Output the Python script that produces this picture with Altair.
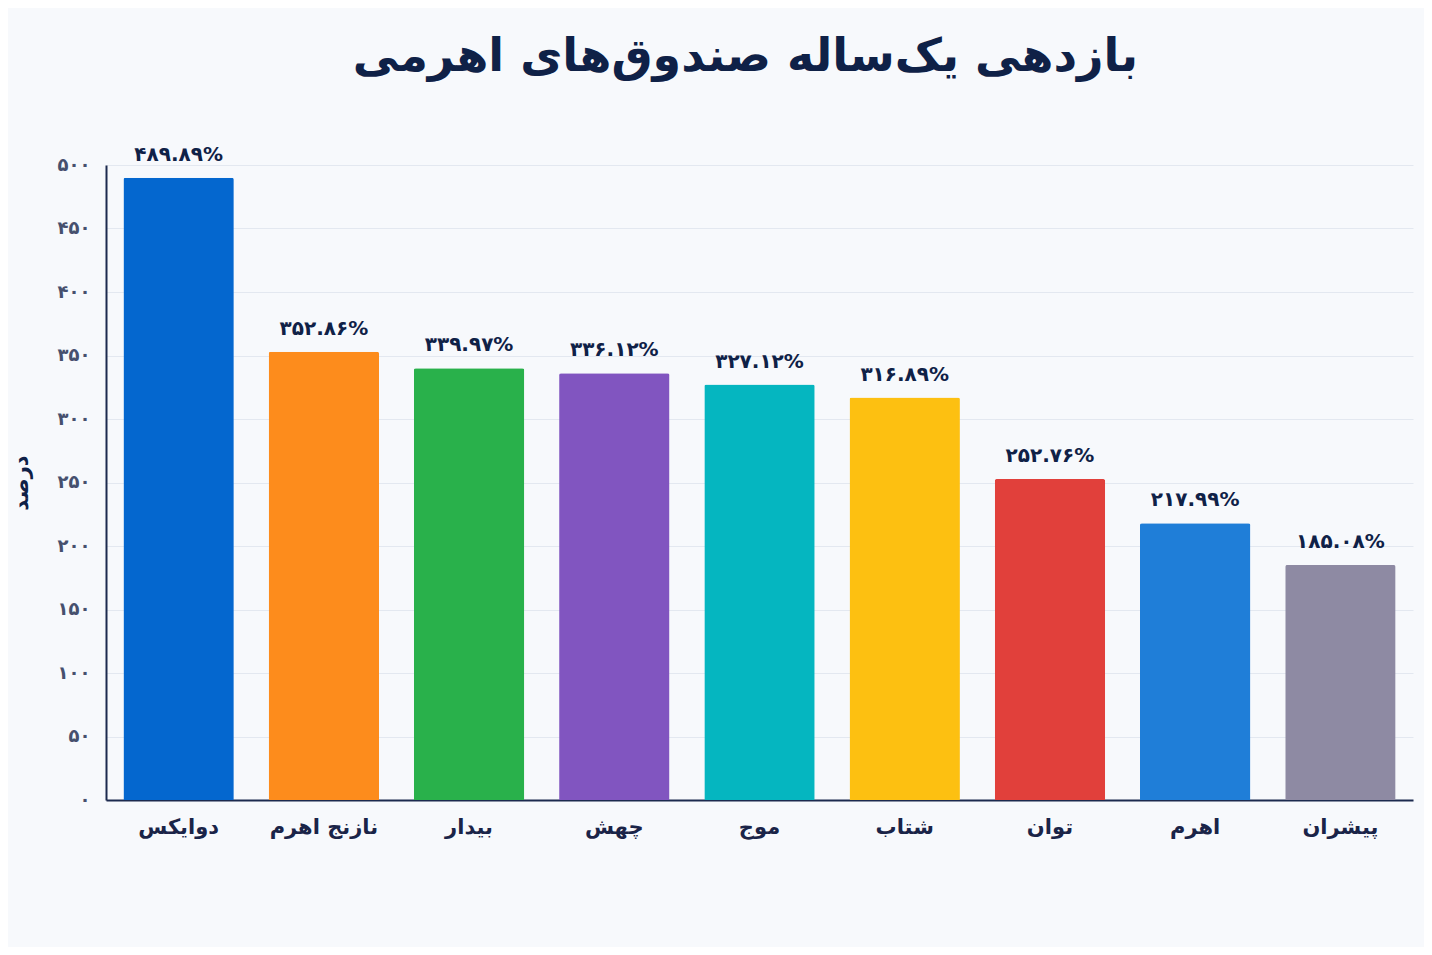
import altair as alt
import pandas as pd

funds = ["دوایکس", "نازنج اهرم", "بیدار", "چهش", "موج", "شتاب", "توان", "اهرم", "پیشران"]
returns = [489.89, 352.86, 339.97, 336.12, 327.12, 316.89, 252.76, 217.99, 185.08]
colors = ["#0467cf", "#fd8c1c", "#29b14b", "#8155c0", "#05b6c0", "#fdc011", "#e1403b", "#1f7ed8", "#8e8aa3"]
y_ticks = [0, 50, 100, 150, 200, 250, 300, 350, 400, 450, 500]

fa_digits = "۰۱۲۳۴۵۶۷۸۹"


def to_fa(s):
    return "".join(fa_digits[int(c)] if c.isdigit() else c for c in s)


df = pd.DataFrame({
    "fund": funds,
    "value": returns,
    "label": [to_fa(f"{v:.2f}") + "%" for v in returns],
})

expr = "datum.label"
for i, d in enumerate(fa_digits):
    expr = f"replace({expr}, regexp('{i}', 'g'), '{d}')"

FONT = "DejaVu Sans"
NAVY = "#0f2147"

x_enc = alt.X(
    "fund:N",
    sort=funds,
    scale=alt.Scale(paddingInner=0.24, paddingOuter=0.12),
    axis=alt.Axis(
        title=None, labelAngle=0, labelFont=FONT, labelFontSize=21, labelFontWeight="bold",
        labelColor="#1a2448", labelPadding=16, ticks=False, domainColor="#1c2a4e", domainWidth=2,
        grid=False,
    ),
)
y_enc = alt.Y(
    "value:Q",
    scale=alt.Scale(domain=[0, 500], nice=False),
    axis=alt.Axis(
        title="درصد", values=y_ticks, labelExpr=expr, labelFont=FONT, labelFontSize=18,
        labelFontWeight="bold", labelColor="#46506e", labelPadding=16, ticks=False,
        domainColor="#1c2a4e", domainWidth=2, gridColor="#e3e8f0", gridWidth=1,
        titleFont=FONT, titleFontSize=21, titleFontWeight="bold", titleColor=NAVY,
        titlePadding=26,
    ),
)

bars = alt.Chart(df).mark_bar(cornerRadiusTopLeft=2, cornerRadiusTopRight=2).encode(
    x=x_enc,
    y=y_enc,
    color=alt.Color("fund:N", sort=funds, scale=alt.Scale(domain=funds, range=colors), legend=None),
)

texts = alt.Chart(df).mark_text(
    baseline="bottom", dy=-13, font=FONT, fontSize=20, fontWeight="bold", color=NAVY
).encode(
    x=alt.X("fund:N", sort=funds),
    y=alt.Y("value:Q"),
    text="label:N",
)

chart = (bars + texts).properties(
    width=1307,
    height=635,
    background="#f7f9fc",
    padding={"left": 98, "top": 157, "right": 11, "bottom": 147},
    autosize=alt.AutoSizeParams(type="none"),
    title=alt.TitleParams(
        "بازدهی یک‌ساله صندوق‌های اهرمی",
        font=FONT, fontSize=46, fontWeight="bold", color=NAVY, anchor="middle",
        offset=64, dx=-14,
    ),
).configure_view(stroke=None)

chart.save("out.html", embed_options={"renderer": "svg", "actions": False})
